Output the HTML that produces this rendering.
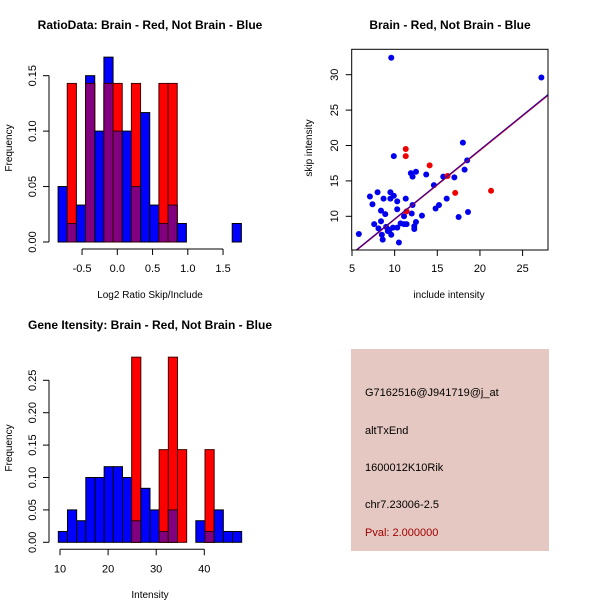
<!DOCTYPE html>
<html><head><meta charset="utf-8"><style>
body{margin:0;background:#fff}
svg{display:block;font-family:"Liberation Sans",sans-serif}
</style></head><body>
<svg id="s" width="600" height="600" viewBox="0 0 600 600">
<rect x="351" y="349" width="198" height="202" fill="#e6c8c2"/>
<g font-size="11" fill="#000">
<text x="365" y="396">G7162516@J941719@j_at</text>
<text x="365" y="434">altTxEnd</text>
<text x="365" y="471">1600012K10Rik</text>
<text x="365" y="508">chr7.23006-2.5</text>
<text x="365" y="536" fill="#a00000">Pval: 2.000000</text>
</g>
</svg>
<script>
// Histogram 1 data
const h1Blue=[0.05,0.0167,0.0333,0.15,0.1,0.1667,0.1,0.1,0.05,0.1167,0.0333,0.0167,0.0333,0.0167,0,0,0,0,0,0.0167];
const h1Red=[0,0.143,0,0.143,0,0.143,0.143,0,0.143,0,0,0.143,0.143,0,0,0,0,0,0,0];
const h1XTicks=[-0.5,0,0.5,1,1.5];
const h1XLabels=["-0.5","0.0","0.5","1.0","1.5"];
const h1YTicks=[0,0.05,0.1,0.15];
const h1YLabels=["0.00","0.05","0.10","0.15"];
// Histogram 2 data
const h2Blue=[0.0167,0.05,0.0333,0.1,0.1,0.1167,0.1167,0.1,0.0333,0.0833,0.05,0.0167,0.05,0,0,0.0333,0.0167,0.05,0.0167,0.0167];
const h2Red=[0,0,0,0,0,0,0,0,0.2857,0,0,0.143,0.2857,0.143,0,0,0.143,0,0,0];
const h2XTicks=[10,20,30,40];
const h2YTicks=[0,0.05,0.1,0.15,0.2,0.25];
const h2YLabels=["0.00","0.05","0.10","0.15","0.20","0.25"];
// Scatter data
const blueX=[5.8,7.1,7.4,8.0,7.6,8.1,8.4,8.7,8.4,8.5,8.6,8.9,9.0,9.2,9.5,9.5,9.6,9.9,9.9,9.6,9.4,9.8,10.3,10.3,10.3,10.5,10.7,11.1,11.3,11.1,11.4,11.9,12.1,12.5,12.0,12.1,12.3,12.3,12.5,13.2,13.7,14.6,14.8,15.2,15.7,16.1,17.0,17.5,18.0,18.2,18.5,18.6,27.2];
const blueY=[7.5,12.8,11.7,13.4,8.9,8.3,10.8,12.5,9.3,7.4,6.7,10.3,8.5,7.9,13.4,12.5,32.4,18.5,12.9,7.4,8.1,8.4,11.0,12.1,8.4,6.3,9.0,10.0,12.5,8.9,8.9,16.1,15.6,16.3,10.4,11.6,8.6,8.2,9.2,10.1,15.9,14.4,11.1,11.6,15.6,12.5,15.5,9.9,20.4,16.6,17.9,10.6,29.6];
const redX=[11.3,11.3,14.1,11.4,16.2,17.1,21.3];
const redY=[19.5,18.5,17.2,10.7,15.7,13.3,13.6];
const sXTicks=[5,10,15,20,25];
const sYTicks=[10,15,20,25,30];
const fitBlue=[-0.13,0.976];
const fitRed=[-0.2,0.975];

const S=document.getElementById('s');
const NS='http://www.w3.org/2000/svg';
function mk(tag,attrs,parent){const e=document.createElementNS(NS,tag);for(const k in attrs)e.setAttribute(k,attrs[k]);(parent||S).appendChild(e);return e;}
function txt(x,y,s,o,parent){const e=mk('text',Object.assign({x:x,y:y,'text-anchor':'middle','font-size':11},o||{}),parent);e.textContent=s;return e;}

function hist(opts){
  const g=mk('g',{});
  
  
  const {x0,bw,xs,xOrig,ys,yOrig,blue,red}=opts;
  const ax=yOrig+7;
  const sx=v=>xOrig+(v-opts.xRef)*xs;
  const sy=v=>yOrig-v*ys;
  for(let i=0;i<blue.length;i++){
    const l=sx(x0+i*bw), w=bw*xs;
    const b=blue[i], r=red[i];
    if(b>0){const e=mk('rect',{x:l,y:sy(b),width:w,height:sy(0)-sy(b),fill:'#0000ff',stroke:'#000','stroke-width':1},g);
      }
    if(r>0){const e=mk('rect',{x:l,y:sy(r),width:w,height:sy(0)-sy(r),fill:'#ff0000',stroke:'#400','stroke-width':1},g);
      }
    const m=Math.min(b,r);
    if(m>0){const e=mk('rect',{x:l,y:sy(m),width:w,height:sy(0)-sy(m),fill:'#800080',stroke:'#300','stroke-width':1},g);
      }
  }
  const yt=opts.yTicks;
  const ya=mk('g',{},g);
  mk('line',{x1:49,x2:49,y1:sy(yt[0]),y2:sy(yt[yt.length-1]),stroke:'#000'},ya);
  yt.forEach((t,i)=>{const y=sy(t);mk('line',{x1:43,x2:49,y1:y,y2:y,stroke:'#000'},ya);
    txt(0,0,opts.yLabels[i],{transform:`translate(36,${y}) rotate(-90)`},ya);});
  const xa=mk('g',{},g);
  const xt=opts.xTicks;
  mk('line',{x1:sx(xt[0]),x2:sx(xt[xt.length-1]),y1:ax,y2:ax,stroke:'#000'},xa);
  xt.forEach((t,i)=>{const x=sx(t);mk('line',{x1:x,x2:x,y1:ax,y2:ax+6,stroke:'#000'},xa);
    txt(x,ax+23,opts.xLabels[i],{},xa);});
}
// Plot 1
(function(){
 const g=mk('g',{});
 
 const t=txt(150,29,'RatioData: Brain - Red, Not Brain - Blue',{'font-weight':'bold','font-size':12},g);
 
 const yl=txt(0,0,'Frequency',{transform:'translate(12,148) rotate(-90)','font-size':10},g);
 
 const xl=txt(150,298,'Log2 Ratio Skip/Include',{'font-size':10},g);
 
})();
hist({name:'ratio-bars',x0:-0.84,bw:0.13,xs:70.5,xRef:0,xOrig:117.3,ys:1108.9,yOrig:242,blue:h1Blue,red:h1Red,
 xTicks:h1XTicks,xLabels:h1XLabels,yTicks:h1YTicks,yLabels:h1YLabels});
// Plot 3
(function(){
 const g=mk('g',{});
 
 const t=txt(150,329,'Gene Itensity: Brain - Red, Not Brain - Blue',{'font-weight':'bold','font-size':12},g);
 
 const yl=txt(0,0,'Frequency',{transform:'translate(12,448) rotate(-90)','font-size':10},g);
 
 const xl=txt(150,598,'Intensity',{'font-size':10},g);
 
})();
hist({name:'intensity-bars',x0:9.65,bw:1.906,xs:4.81,xRef:10,xOrig:60,ys:648,yOrig:542.3,blue:h2Blue,red:h2Red,
  xTicks:h2XTicks,xLabels:h2XTicks.map(String),yTicks:h2YTicks,yLabels:h2YLabels});
// Scatter
(function(){
 const g=mk('g',{});
 
 const L=351.7,R=548,T=49.3,B=250;
 const sx=v=>352+(v-5)*8.53;
 const sy=v=>216.3-(v-10)*7.08;
 const t=txt(450,29,'Brain - Red, Not Brain - Blue',{'font-weight':'bold','font-size':12},g);
 
 const clip=mk('clipPath',{id:'cp'},g);mk('rect',{x:L,y:T,width:R-L,height:B-T},clip);
 const pts=mk('g',{'clip-path':'url(#cp)'},g);
 
 for(let i=0;i<blueX.length;i++){const c=mk('circle',{cx:sx(blueX[i]),cy:sy(blueY[i]),r:3,fill:'#0000ee'},pts);
  }
 for(let i=0;i<redX.length;i++){const c=mk('circle',{cx:sx(redX[i]),cy:sy(redY[i]),r:3,fill:'#ee0000'},pts);
  }
 const lr=mk('line',{x1:sx(4),y1:sy(fitRed[0]+fitRed[1]*4),x2:sx(30),y2:sy(fitRed[0]+fitRed[1]*30),stroke:'#ff0000','stroke-width':1.2},pts);
 
 const lb=mk('line',{x1:sx(4),y1:sy(fitBlue[0]+fitBlue[1]*4),x2:sx(30),y2:sy(fitBlue[0]+fitBlue[1]*30),stroke:'#3000a0','stroke-width':1.2},pts);
 
 const box=mk('rect',{x:L,y:T,width:R-L,height:B-T,fill:'none',stroke:'#000'},g);
 
 const xa=mk('g',{},g);
 sXTicks.forEach(v=>{const x=sx(v);mk('line',{x1:x,x2:x,y1:B,y2:B+6,stroke:'#000'},xa);txt(x,272,String(v),{},xa);});
 const ya=mk('g',{},g);
 sYTicks.forEach(v=>{const y=sy(v);mk('line',{x1:L-6,x2:L,y1:y,y2:y,stroke:'#000'},ya);txt(0,0,String(v),{transform:`translate(338,${y}) rotate(-90)`},ya);});
 const xl=txt(449,298,'include intensity',{'font-size':10},g);
 
 const yl=txt(0,0,'skip intensity',{transform:'translate(312,148) rotate(-90)','font-size':10},g);
 
})();
</script>
</body></html>
